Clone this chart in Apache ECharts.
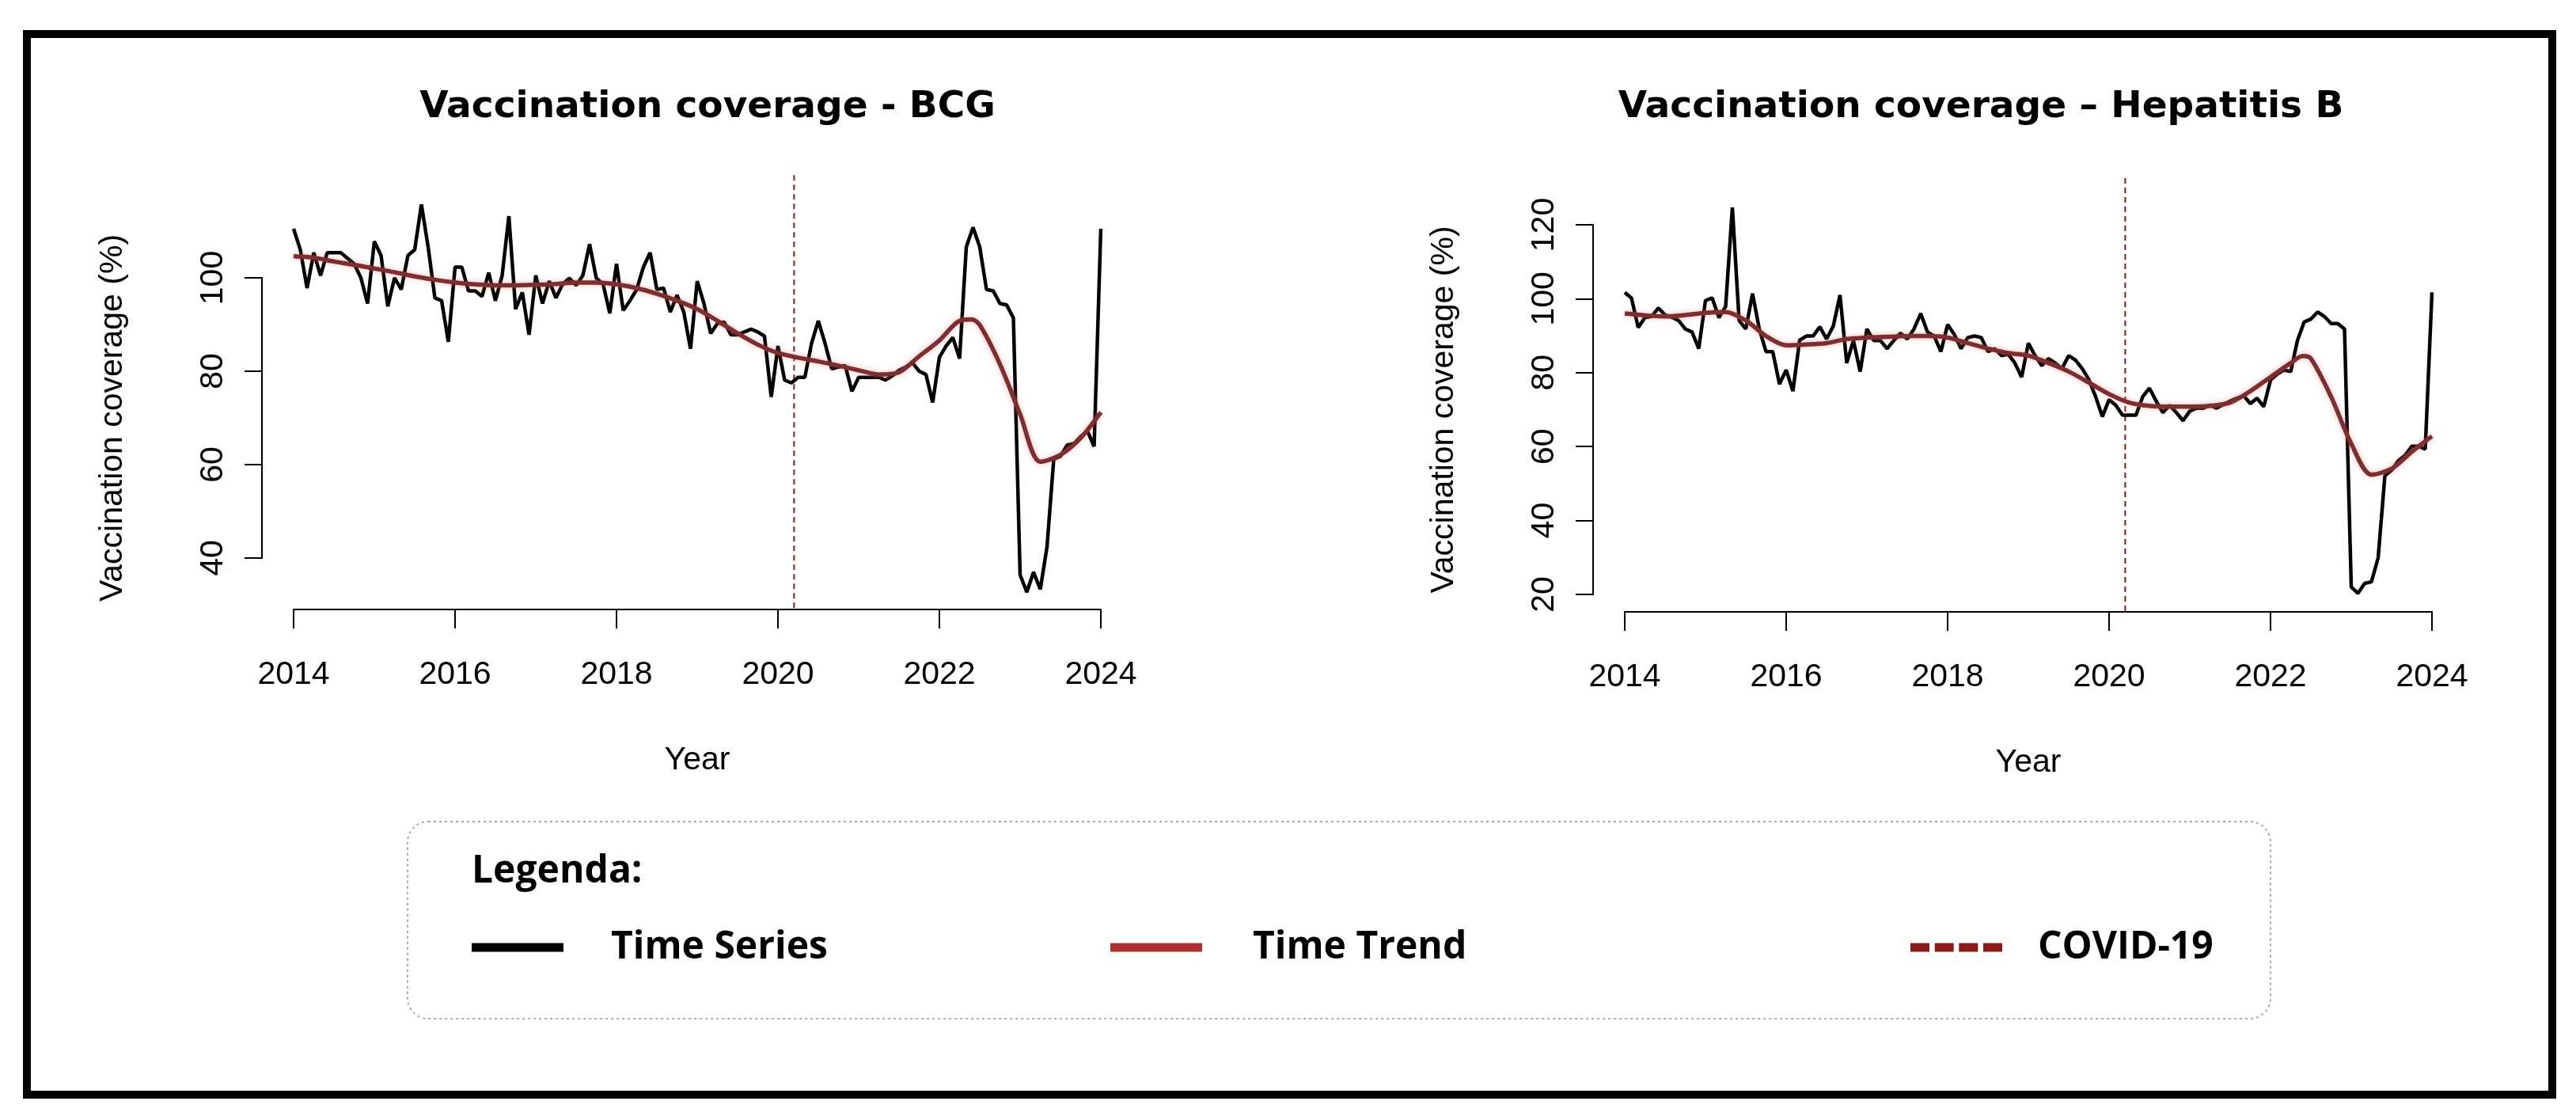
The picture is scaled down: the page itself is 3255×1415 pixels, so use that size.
<!DOCTYPE html>
<html>
<head>
<meta charset="utf-8">
<title>Vaccination coverage</title>
<script src="https://cdn.jsdelivr.net/npm/echarts/dist/echarts.min.js"></script>
<style>
  html, body { margin: 0; background: #fff; }
  #main { width: 3255px; height: 1415px; }
</style>
</head>
<body>
<div id="main"></div>
<script>
// monthly series, Jan 2014 .. Jan 2024 (one value per month)
const startYear = 2014;
const bcgSeries = [
  110.5, 106, 97.8, 105.4, 100.5, 105.4, 105.4, 105.4, 104.2, 103, 100, 94.5,
  107.8, 104.8, 93.9, 100, 97.5, 104.8, 106, 115.7, 106.6, 95.7, 95.1, 86.3,
  102.3, 102.3, 97.2, 97.2, 96, 101.1, 95.1, 100.5, 113.2, 93.3, 96.9, 87.8,
  100.5, 94.5, 99.3, 95.7, 98.7, 99.9, 98.4, 100.5, 107.2, 99.9, 98.7, 92.4,
  103, 93, 95.1, 97.5, 102.3, 105.4, 97.5, 97.8, 92.7, 96.3, 92.7, 84.8,
  99.3, 94.5, 88.1, 90.2, 90.5, 87.8, 87.8, 88.4, 89, 88.4, 87.5, 74.5,
  85.4, 78.1, 77.5, 78.7, 78.7, 86, 90.8, 86, 80.5, 80.9, 81.2, 75.7,
  78.7, 78.7, 78.7, 78.7, 78.1, 79, 80.2, 80.9, 81.8, 80, 79.3, 73.3,
  83, 85.4, 87.2, 82.7, 106.6, 110.8, 106.6, 97.5, 97.2, 94.5, 94.2, 91.4,
  36.4, 32.7, 37, 33.3, 42.4, 61.2, 61.8, 64.2, 64.5, 66, 67.2, 63.9,
  110.5
];
const hepbSeries = [
  101.7, 100.2, 92.2, 94.9, 95.2, 97.5, 95.6, 95, 94.1, 91.8, 91, 86.5,
  99.5, 100.2, 94.9, 97.9, 124.7, 94.1, 91.8, 101.4, 91.8, 85.7, 85.7, 76.9,
  80.7, 75, 88.8, 89.9, 89.9, 92.4, 89.1, 92.6, 101, 82.6, 88.7, 80.3,
  91.8, 88.7, 88.7, 86.5, 88.7, 90.7, 89.1, 91.8, 96, 91, 89.9, 85.7,
  93, 90.3, 86.5, 89.5, 89.9, 89.5, 85.7, 86.5, 84.6, 85, 82.6, 78.8,
  88, 84.6, 81.9, 83.8, 82.6, 81.1, 84.6, 83.4, 81.1, 78.1, 73.5, 68.1,
  72.7, 71.2, 68.5, 68.5, 68.5, 73.5, 75.8, 72.3, 69.2, 71.2, 69.2, 67,
  69.6, 70.4, 70.4, 71.2, 70.4, 71.4, 72.3, 73.1, 73.8, 71.6, 73.1, 70.8,
  78, 79.6, 80.7, 80.3, 88.7, 93.7, 94.5, 96.4, 95.2, 93.3, 93.3, 91.8,
  22, 20.3, 23, 23.4, 29.9, 52.1, 53.6, 56.2, 57.6, 60.1, 60.1, 59.3,
  101.7
];

// smoothed trend, read at these years
const trendYears = [
  2014, 2014.25, 2014.5, 2014.75, 2015, 2015.25, 2015.5, 2015.75,
  2016, 2016.25, 2016.5, 2016.75, 2017, 2017.25, 2017.5, 2017.75,
  2018, 2018.25, 2018.5, 2018.75, 2019, 2019.25, 2019.5, 2019.75,
  2020, 2020.25, 2020.5, 2020.75, 2021, 2021.25, 2021.5, 2021.75,
  2022, 2022.25, 2022.4, 2022.5, 2022.75, 2023, 2023.25, 2023.5, 2023.75, 2024
];
const bcgTrend = [
  104.6, 104.3, 103.5, 102.8, 102, 101.2, 100.3, 99.6,
  99, 98.6, 98.4, 98.4, 98.5, 98.7, 99, 99,
  98.6, 97.8, 96.6, 95.1, 93.3, 90.8, 88.1, 85.7,
  83.9, 82.9, 82.1, 81.2, 80.2, 79.3, 79.8, 83.2,
  86.6, 90.8, 91.1, 89.9, 81.5, 70.8, 60.6, 62.1, 65.7, 71.2
];
const hepbTrend = [
  96, 95.5, 95.2, 95.6, 96.2, 96.4, 94.1, 89.9,
  87.4, 87.6, 88, 89.1, 89.5, 89.7, 89.9, 89.9,
  89.5, 88, 86.5, 85.3, 84.6, 82.6, 80.3, 77.3,
  74.2, 71.9, 71, 70.8, 70.8, 71, 71.9, 75,
  78.8, 82.6, 84.5, 83.8, 73.5, 60.8, 52.4, 54, 58.6, 62.8
];

const covidYear = 2020.2;
const xTicks = { min: 2014, max: 2024, interval: 2 };
const bcgTicks = { min: 40, max: 100, interval: 20 };
const hepbTicks = { min: 20, max: 120, interval: 20 };
// full plot-region height of each panel (where the COVID line runs)
const bcgRange = [29.3, 122.7];
const hepbRange = [15.5, 133.7];

const titles = ['Vaccination coverage - BCG', 'Vaccination coverage \u2013 Hepatitis B'];
const legendTitle = 'Legenda:';

function monthly(values) {
  return values.map((v, i) => [startYear + i / 12, v]);
}
function pairs(xs, ys) {
  return xs.map((x, i) => [x, ys[i]]);
}

const axisFont = 'Liberation Sans, Arial, sans-serif';
const titleFont = 'DejaVu Sans, sans-serif';
const legendFont = 'Open Sans, sans-serif';

function xAxisOf(gridIndex, offset) {
  return {
    gridIndex: gridIndex, type: 'value',
    min: xTicks.min, max: xTicks.max, interval: xTicks.interval,
    offset: offset,
    axisLine: { show: true, lineStyle: { color: '#000', width: 2 } },
    axisTick: { show: true, length: 24, lineStyle: { color: '#000', width: 2 } },
    axisLabel: { color: '#000', fontSize: 41, fontFamily: axisFont, margin: 62,
                 formatter: v => String(v) },
    splitLine: { show: false },
    name: 'Year', nameLocation: 'middle', nameGap: 170,
    nameTextStyle: { color: '#000', fontSize: 41, fontFamily: axisFont }
  };
}
function yAxisOf(gridIndex, ticks) {
  return {
    gridIndex: gridIndex, type: 'value',
    min: ticks.min, max: ticks.max, interval: ticks.interval,
    offset: 40,
    axisLine: { show: true, lineStyle: { color: '#000', width: 2 } },
    axisTick: { show: true, length: 22, lineStyle: { color: '#000', width: 2 } },
    axisLabel: { color: '#000', fontSize: 41, fontFamily: axisFont, rotate: 90, margin: 41 },
    splitLine: { show: false },
    name: 'Vaccination coverage (%)', nameLocation: 'middle', nameGap: 168, nameRotate: 90,
    nameTextStyle: { color: '#000', fontSize: 41, fontFamily: axisFont }
  };
}
function panelSeries(idx, values, trend, range) {
  return [
    {
      name: 'COVID-19', type: 'line', xAxisIndex: idx, yAxisIndex: idx,
      data: [[covidYear, range[0]], [covidYear, range[1]]],
      symbol: 'none', clip: false, silent: true, z: 1,
      itemStyle: { color: '#8b1a1a' },
      lineStyle: { color: '#8b1a1a', width: 2, type: [7, 5] }
    },
    {
      name: 'Time Series', type: 'line', xAxisIndex: idx, yAxisIndex: idx,
      data: monthly(values), symbol: 'none', clip: false, z: 2,
      itemStyle: { color: '#000' },
      lineStyle: { color: '#000', width: 4.5 }
    },
    {
      name: 'Time Trend', type: 'line', xAxisIndex: idx, yAxisIndex: idx,
      data: pairs(trendYears, trend), symbol: 'none', clip: false, smooth: 0.3, z: 3,
      itemStyle: { color: '#b03030' },
      lineStyle: { color: '#7e2e2e', width: 5.5,
                   shadowColor: 'rgba(235,120,120,0.5)', shadowBlur: 7 }
    }
  ];
}

function legendOf(left, textGap, item) {
  return {
    left: left, top: 1167, padding: 0, selectedMode: false,
    itemWidth: 116, itemHeight: 11, data: [item],
    textStyle: { color: '#000', fontSize: 48, fontWeight: 'bold', fontFamily: legendFont,
                 lineHeight: 60, padding: [0, 0, 0, textGap] }
  };
}
const dashIcon = 'path://M0,0h24v11h-24z M30.7,0h24v11h-24z M61.3,0h24v11h-24z M92,0h24v11h-24z';

const chart = echarts.init(document.getElementById('main'), null, { renderer: 'canvas' });
chart.setOption({
  backgroundColor: '#fff',
  animation: false,
  title: [
    { text: titles[0], left: 894, top: 112, padding: 0, textAlign: 'center',
      textStyle: { color: '#000', fontSize: 47, fontWeight: 'bold', fontFamily: titleFont } },
    { text: titles[1], left: 2503, top: 112, padding: 0, textAlign: 'center',
      textStyle: { color: '#000', fontSize: 47, fontWeight: 'bold', fontFamily: titleFont } },
    { text: legendTitle, left: 596, top: 1077, padding: 0,
      textStyle: { color: '#000', fontSize: 48, fontWeight: 'bold', fontFamily: legendFont } }
  ],
  grid: [
    { left: 371, top: 351, width: 1020, height: 354 },
    { left: 2053, top: 284, width: 1020, height: 467 }
  ],
  xAxis: [xAxisOf(0, 65), xAxisOf(1, 22)],
  yAxis: [yAxisOf(0, bcgTicks), yAxisOf(1, hepbTicks)],
  legend: [
    legendOf(596, 55, { name: 'Time Series', icon: 'rect', itemStyle: { color: '#000' } }),
    legendOf(1403, 59, { name: 'Time Trend', icon: 'rect', itemStyle: { color: '#b03030' } }),
    legendOf(2414, 40, { name: 'COVID-19', icon: dashIcon, itemStyle: { color: '#8b1a1a' } })
  ],
  series: panelSeries(0, bcgSeries, bcgTrend, bcgRange)
    .concat(panelSeries(1, hepbSeries, hepbTrend, hepbRange)),
  graphic: [
    { type: 'rect', silent: true, z: 100,
      shape: { x: 34, y: 43, width: 3191, height: 1340 },
      style: { fill: 'none', stroke: '#000', lineWidth: 10 } },
    { type: 'rect', silent: true,
      shape: { x: 515, y: 1038, width: 2354, height: 249, r: 26 },
      style: { fill: 'none', stroke: '#a8a8a8', lineWidth: 2, lineDash: [3, 4] } }
  ]
});
</script>
</body>
</html>
